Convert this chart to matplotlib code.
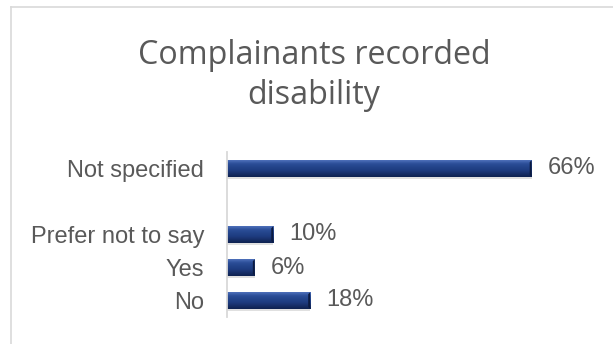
import matplotlib
matplotlib.use('Agg')
import matplotlib.pyplot as plt
import numpy as np
from matplotlib.colors import LinearSegmentedColormap
from matplotlib.lines import Line2D

# categories bottom to top, blank slot keeps the gap under "Not specified"
categories = ['No', 'Yes', 'Prefer not to say', '', 'Not specified']
shares = [18, 6, 10, 0, 66]
share_labels = ['18%', '6%', '10%', '', '66%']

grey_txt = '#595959'
grey_line = '#d9d9d9'

# vertical shading for the bevelled bars (bottom -> top)
bevel = LinearSegmentedColormap.from_list(
    'bevel', ['#0e2150', '#172f68', '#1e3c80', '#23448b', '#2c4f99', '#5072bb'])

fig = plt.figure(figsize=(6.13, 3.44), dpi=100)
fig.patch.set_facecolor('white')

# chart frame (only top and left edges fall inside the image)
fig.add_artist(Line2D([10.5/613, 1], [1-6.5/344, 1-6.5/344], color=grey_line, lw=1.2))
fig.add_artist(Line2D([10.5/613, 10.5/613], [1-6.5/344, 0], color=grey_line, lw=1.2))

fig.text(314/613, 1-64/344, 'Complainants recorded', ha='center', va='baseline',
         family='Open Sans', fontsize=23.2, color=grey_txt)
fig.text(314/613, 1-104/344, 'disability', ha='center', va='baseline',
         family='Open Sans', fontsize=23.2, color=grey_txt)

ax = fig.add_axes([227/613, 27/344, 323/613, 165/344])
vals = np.array(shares) / 100.0
pos = np.arange(len(categories))

# soft shadow under each bar
ax.barh(pos - 0.07, vals, height=0.5, color='#000000', alpha=0.12, zorder=1)
bars = ax.barh(pos, vals, height=0.5, color='none', zorder=3)

grad = np.linspace(0, 1, 64).reshape(-1, 1)
for p in bars.patches:
    if p.get_width() <= 0:
        continue
    x0, y0 = p.get_x(), p.get_y()
    w, h = p.get_width(), p.get_height()
    im = ax.imshow(grad, extent=[x0, x0 + w, y0, y0 + h], origin='lower',
                   aspect='auto', cmap=bevel, zorder=2, interpolation='bicubic')
    im.set_clip_path(p)
    # darker bevel at the bar end
    ax.fill([x0 + w - 0.004, x0 + w, x0 + w, x0 + w - 0.004],
            [y0 + 0.06, y0, y0 + h, y0 + h - 0.06], color='#0b1a40', zorder=2.5, lw=0)

ax.bar_label(bars, labels=share_labels, padding=11.5, fontsize=17,
             color=grey_txt, family='Liberation Sans')

ax.set_xlim(0, 0.70)
ax.set_ylim(-0.5, len(categories) - 0.5)
ax.set_yticks(pos)
ax.set_yticklabels(categories, fontsize=17, color=grey_txt, family='Liberation Sans')
ax.tick_params(axis='y', length=0, pad=16.5)
ax.set_xticks([])
for s in ['top', 'right', 'bottom']:
    ax.spines[s].set_visible(False)
ax.spines['left'].set_color(grey_line)
ax.spines['left'].set_linewidth(1.3)
ax.set_facecolor('none')

plt.savefig('out.png', dpi=100)
